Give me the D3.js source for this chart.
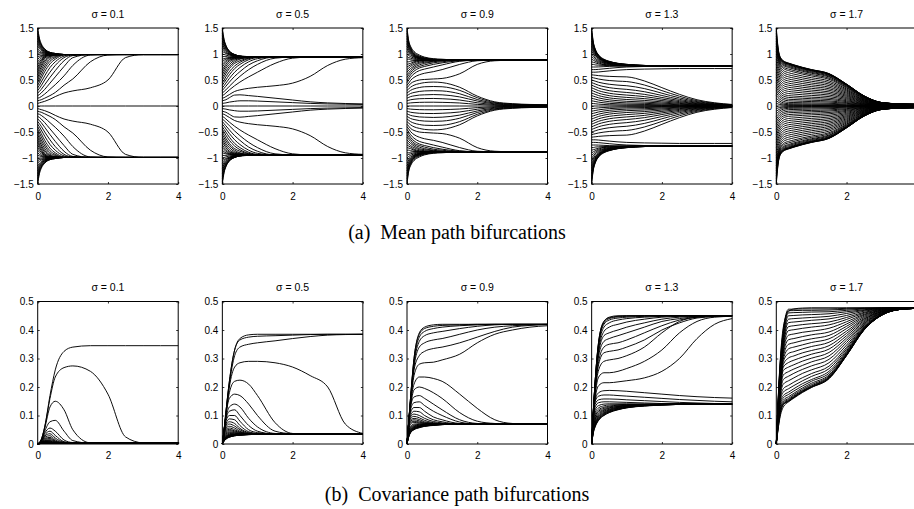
<!DOCTYPE html>
<html><head><meta charset="utf-8">
<script src="https://cdn.jsdelivr.net/npm/d3@7"></script>
<style>
html,body{margin:0;padding:0;background:#fff;}
svg{display:block;}
.tick text{font-family:"Liberation Sans",Arial,Helvetica,sans-serif;font-size:10px;fill:#000;}
.tick line{stroke:#000;stroke-width:0.8;}
.path{fill:none;stroke:#000;stroke-width:0.95;}
</style></head><body>
<svg id="fig" width="914" height="509"></svg>
<script>
// Shared time knots (x values) of every path
const T = [0,0.05,0.1,0.2,0.35,0.5,0.75,1,1.5,2,2.5,3,3.5,4];

const sigmaLabels = ["σ = 0.1","σ = 0.5","σ = 0.9","σ = 1.3","σ = 1.7"];
const xTicks = [0,2,4];
const xTickLabels = ["0","2","4"];
const meanTicks = [-1.5,-1,-0.5,0,0.5,1,1.5];
const meanTickLabels = ["−1.5","−1","−0.5","0","0.5","1","1.5"];
const covTicks = [0,0.1,0.2,0.3,0.4,0.5];
const covTickLabels = ["0","0.1","0.2","0.3","0.4","0.5"];

// Mean paths, one row per initial value 0, 0.05, ..., 1.5 (each path has a mirror image for the negative start)
const meanPaths01 = [
[0,0,0,0,0,0,0,0,0,0,0,0,0,0],
[.05,.06,.07,.09,.13,.18,.25,.29,.35,.5,.93,.99,.99,.99],
[.1,.11,.12,.15,.2,.26,.4,.52,.85,.98,.99,.99,.99,.99],
[.15,.16,.18,.23,.32,.41,.58,.78,.98,.99,.99,.99,.99,.99],
[.2,.22,.25,.32,.44,.56,.76,.93,.99,.99,.99,.99,.99,.99],
[.25,.28,.32,.41,.55,.68,.87,.97,.99,.99,.99,.99,.99,.99],
[.3,.34,.39,.5,.65,.78,.93,.98,.99,.99,.99,.99,.99,.99],
[.35,.4,.46,.58,.74,.85,.96,.99,.99,.99,.99,.99,.99,.99],
[.4,.46,.53,.66,.81,.9,.98,.99,.99,.99,.99,.99,.99,.99],
[.45,.52,.59,.72,.86,.93,.99,.99,.99,.99,.99,.99,.99,.99],
[.5,.58,.65,.77,.9,.95,.99,.99,.99,.99,.99,.99,.99,.99],
[.55,.63,.7,.82,.93,.97,.99,.99,.99,.99,.99,.99,.99,.99],
[.6,.68,.75,.86,.95,.98,.99,.99,.99,.99,.99,.99,.99,.99],
[.65,.73,.79,.89,.96,.98,.99,.99,.99,.99,.99,.99,.99,.99],
[.7,.77,.83,.92,.97,.99,.99,.99,.99,.99,.99,.99,.99,.99],
[.75,.81,.86,.94,.98,.99,.99,.99,.99,.99,.99,.99,.99,.99],
[.8,.85,.89,.95,.98,.99,.99,.99,.99,.99,.99,.99,.99,.99],
[.85,.89,.92,.96,.99,.99,.99,.99,.99,.99,.99,.99,.99,.99],
[.9,.93,.95,.97,.99,.99,.99,.99,.99,.99,.99,.99,.99,.99],
[.95,.96,.97,.98,.99,.99,.99,.99,.99,.99,.99,.99,.99,.99],
[1,1,1,.99,.99,.99,.99,.99,.99,.99,.99,.99,.99,.99],
[1.05,1.03,1.02,1.01,1,.99,.99,.99,.99,.99,.99,.99,.99,.99],
[1.1,1.06,1.04,1.02,1,.99,.99,.99,.99,.99,.99,.99,.99,.99],
[1.15,1.1,1.07,1.03,1.01,1,.99,.99,.99,.99,.99,.99,.99,.99],
[1.2,1.13,1.09,1.04,1.01,1,.99,.99,.99,.99,.99,.99,.99,.99],
[1.25,1.16,1.11,1.05,1.02,1,.99,.99,.99,.99,.99,.99,.99,.99],
[1.3,1.19,1.13,1.06,1.02,1,.99,.99,.99,.99,.99,.99,.99,.99],
[1.35,1.22,1.15,1.07,1.02,1,.99,.99,.99,.99,.99,.99,.99,.99],
[1.4,1.25,1.17,1.08,1.03,1.01,.99,.99,.99,.99,.99,.99,.99,.99],
[1.45,1.27,1.18,1.09,1.03,1.01,.99,.99,.99,.99,.99,.99,.99,.99],
[1.5,1.3,1.2,1.1,1.03,1.01,.99,.99,.99,.99,.99,.99,.99,.99]
];
const meanPaths05 = [
[0,0,0,0,0,0,0,0,0,0,0,0,0,0],
[.05,.055,.06,.075,.09,.1,.1,.095,.08,.065,.05,.04,.035,.03],
[.1,.11,.12,.16,.21,.215,.2,.185,.15,.115,.08,.06,.048,.04],
[.15,.16,.18,.22,.28,.31,.34,.36,.39,.44,.57,.78,.9,.93],
[.2,.22,.25,.31,.39,.46,.56,.65,.82,.92,.94,.94,.94,.94],
[.25,.28,.31,.38,.48,.57,.7,.8,.92,.94,.94,.94,.94,.94],
[.3,.34,.38,.46,.57,.66,.79,.87,.94,.94,.94,.94,.94,.94],
[.35,.39,.44,.53,.65,.74,.85,.91,.94,.94,.94,.94,.94,.94],
[.4,.45,.5,.6,.72,.8,.89,.93,.94,.94,.94,.94,.94,.94],
[.45,.5,.56,.66,.77,.84,.91,.94,.94,.94,.94,.94,.94,.94],
[.5,.56,.62,.72,.82,.87,.92,.94,.94,.94,.94,.94,.94,.94],
[.55,.61,.67,.76,.85,.9,.93,.94,.94,.94,.94,.94,.94,.94],
[.6,.66,.72,.8,.88,.91,.93,.94,.94,.94,.94,.94,.94,.94],
[.65,.71,.76,.84,.9,.92,.94,.94,.94,.94,.94,.94,.94,.94],
[.7,.75,.8,.87,.91,.93,.94,.94,.94,.94,.94,.94,.94,.94],
[.75,.8,.84,.89,.92,.93,.94,.94,.94,.94,.94,.94,.94,.94],
[.8,.84,.87,.91,.93,.94,.94,.94,.94,.94,.94,.94,.94,.94],
[.85,.88,.9,.92,.93,.94,.94,.94,.94,.94,.94,.94,.94,.94],
[.9,.91,.92,.93,.94,.94,.94,.94,.94,.94,.94,.94,.94,.94],
[.95,.95,.95,.94,.94,.94,.94,.94,.94,.94,.94,.94,.94,.94],
[1,.99,.98,.96,.95,.94,.94,.94,.94,.94,.94,.94,.94,.94],
[1.05,1.03,1.01,.98,.96,.95,.94,.94,.94,.94,.94,.94,.94,.94],
[1.1,1.06,1.03,.99,.96,.95,.94,.94,.94,.94,.94,.94,.94,.94],
[1.15,1.09,1.05,1,.97,.95,.94,.94,.94,.94,.94,.94,.94,.94],
[1.2,1.12,1.07,1.01,.97,.95,.94,.94,.94,.94,.94,.94,.94,.94],
[1.25,1.15,1.09,1.02,.97,.95,.94,.94,.94,.94,.94,.94,.94,.94],
[1.3,1.18,1.11,1.03,.98,.96,.94,.94,.94,.94,.94,.94,.94,.94],
[1.35,1.21,1.13,1.04,.98,.96,.94,.94,.94,.94,.94,.94,.94,.94],
[1.4,1.24,1.15,1.05,.99,.96,.94,.94,.94,.94,.94,.94,.94,.94],
[1.45,1.26,1.16,1.05,.99,.96,.95,.94,.94,.94,.94,.94,.94,.94],
[1.5,1.28,1.17,1.06,.99,.96,.95,.94,.94,.94,.94,.94,.94,.94]
];
const meanPaths09 = [
[0,0,0,0,0,0,0,0,0,0,0,0,0,0],
[.05,.055,.06,.065,.07,.072,.073,.07,.058,.031,.013,.007,.005,.004],
[.1,.11,.12,.13,.14,.143,.145,.14,.115,.062,.027,.015,.01,.008],
[.15,.165,.18,.195,.21,.215,.22,.215,.175,.095,.04,.022,.015,.012],
[.2,.22,.24,.26,.28,.29,.295,.29,.235,.125,.053,.03,.02,.016],
[.25,.275,.3,.33,.355,.37,.375,.37,.3,.16,.067,.037,.025,.02],
[.3,.33,.36,.4,.43,.45,.46,.45,.36,.19,.08,.045,.03,.025],
[.35,.39,.43,.47,.5,.51,.52,.53,.62,.8,.87,.88,.88,.88],
[.4,.44,.49,.55,.6,.63,.66,.7,.8,.87,.88,.88,.88,.88],
[.45,.5,.55,.62,.68,.71,.75,.79,.86,.88,.88,.88,.88,.88],
[.5,.55,.6,.67,.73,.76,.8,.83,.87,.88,.88,.88,.88,.88],
[.55,.6,.64,.71,.76,.79,.83,.85,.88,.88,.88,.88,.88,.88],
[.6,.64,.68,.74,.79,.82,.85,.87,.88,.88,.88,.88,.88,.88],
[.65,.69,.72,.77,.82,.84,.86,.87,.88,.88,.88,.88,.88,.88],
[.7,.73,.76,.8,.84,.86,.87,.88,.88,.88,.88,.88,.88,.88],
[.75,.77,.79,.83,.86,.87,.88,.88,.88,.88,.88,.88,.88,.88],
[.8,.81,.82,.85,.87,.88,.88,.88,.88,.88,.88,.88,.88,.88],
[.85,.85,.86,.87,.88,.88,.88,.88,.88,.88,.88,.88,.88,.88],
[.9,.9,.89,.88,.88,.88,.88,.88,.88,.88,.88,.88,.88,.88],
[.95,.93,.92,.9,.89,.88,.88,.88,.88,.88,.88,.88,.88,.88],
[1,.97,.95,.92,.9,.89,.88,.88,.88,.88,.88,.88,.88,.88],
[1.05,1.01,.98,.94,.91,.89,.88,.88,.88,.88,.88,.88,.88,.88],
[1.1,1.04,1,.95,.91,.9,.88,.88,.88,.88,.88,.88,.88,.88],
[1.15,1.07,1.02,.96,.92,.9,.89,.88,.88,.88,.88,.88,.88,.88],
[1.2,1.1,1.04,.97,.92,.9,.89,.88,.88,.88,.88,.88,.88,.88],
[1.25,1.13,1.06,.98,.93,.9,.89,.88,.88,.88,.88,.88,.88,.88],
[1.3,1.15,1.08,.99,.93,.91,.89,.88,.88,.88,.88,.88,.88,.88],
[1.35,1.18,1.1,1,.94,.91,.89,.88,.88,.88,.88,.88,.88,.88],
[1.4,1.2,1.11,1.01,.95,.92,.9,.89,.88,.88,.88,.88,.88,.88],
[1.45,1.23,1.13,1.03,.96,.93,.9,.89,.88,.88,.88,.88,.88,.88],
[1.5,1.25,1.15,1.05,.98,.94,.91,.9,.88,.88,.88,.88,.88,.88]
];
const meanPaths13 = [
[0,0,0,0,0,0,0,0,0,0,0,0,0,0],
[.05,.047,.043,.036,.029,.024,.019,.015,.013,.01,.006,.003,.002,.001],
[.1,.094,.087,.074,.061,.051,.042,.035,.03,.022,.014,.008,.004,.002],
[.15,.141,.132,.114,.096,.083,.069,.06,.052,.038,.024,.013,.007,.003],
[.2,.189,.178,.156,.134,.118,.101,.09,.077,.057,.036,.019,.01,.005],
[.25,.238,.225,.2,.175,.156,.138,.125,.108,.079,.05,.027,.014,.007],
[.3,.287,.273,.246,.219,.199,.179,.165,.142,.104,.066,.035,.018,.009],
[.35,.336,.322,.294,.266,.245,.224,.21,.181,.132,.084,.045,.023,.011],
[.4,.386,.372,.344,.316,.295,.274,.26,.224,.164,.104,.056,.029,.014],
[.45,.437,.424,.398,.372,.353,.333,.32,.275,.202,.128,.069,.035,.017],
[.5,.489,.478,.456,.434,.418,.401,.39,.335,.246,.156,.084,.043,.021],
[.55,.542,.534,.518,.502,.49,.478,.47,.404,.296,.188,.101,.052,.025],
[.6,.596,.592,.584,.576,.57,.564,.56,.482,.353,.224,.12,.062,.03],
[.65,.65,.65,.655,.665,.675,.69,.7,.71,.715,.72,.72,.72,.72],
[.7,.7,.7,.705,.715,.725,.74,.75,.76,.765,.77,.77,.77,.77],
[.75,.75,.75,.752,.757,.762,.768,.77,.77,.77,.77,.77,.77,.77],
[.8,.8,.79,.785,.78,.775,.772,.77,.77,.77,.77,.77,.77,.77],
[.85,.84,.83,.81,.795,.785,.775,.772,.77,.77,.77,.77,.77,.77],
[.9,.88,.86,.83,.8,.79,.78,.775,.77,.77,.77,.77,.77,.77],
[.95,.92,.89,.85,.82,.8,.79,.78,.77,.77,.77,.77,.77,.77],
[1,.96,.92,.87,.83,.81,.79,.78,.77,.77,.77,.77,.77,.77],
[1.05,1,.95,.89,.84,.82,.8,.78,.77,.77,.77,.77,.77,.77],
[1.1,1.03,.98,.91,.85,.82,.8,.785,.77,.77,.77,.77,.77,.77],
[1.15,1.06,1,.92,.86,.83,.805,.79,.77,.77,.77,.77,.77,.77],
[1.2,1.09,1.02,.93,.87,.83,.81,.79,.775,.77,.77,.77,.77,.77],
[1.25,1.12,1.04,.94,.87,.84,.81,.79,.775,.77,.77,.77,.77,.77],
[1.3,1.15,1.06,.95,.88,.84,.81,.795,.775,.77,.77,.77,.77,.77],
[1.35,1.17,1.07,.96,.88,.85,.815,.795,.775,.77,.77,.77,.77,.77],
[1.4,1.19,1.08,.97,.89,.85,.815,.8,.78,.77,.77,.77,.77,.77],
[1.45,1.21,1.09,.97,.89,.855,.82,.8,.78,.77,.77,.77,.77,.77],
[1.5,1.22,1.1,.98,.9,.86,.82,.8,.78,.77,.77,.77,.77,.77]
];
const meanPaths17 = [
[0,0,0,0,0,0,0,0,0,0,0,0,0,0],
[.05,.039,.029,.018,.012,.012,.011,.01,.009,.006,.003,.001,.001,.0005],
[.1,.078,.059,.037,.026,.025,.023,.022,.02,.013,.006,.002,.0013,.001],
[.15,.119,.092,.061,.045,.043,.041,.038,.034,.023,.011,.004,.002,.002],
[.2,.161,.129,.09,.07,.067,.063,.06,.053,.036,.016,.006,.004,.003],
[.25,.205,.168,.123,.1,.096,.09,.085,.076,.051,.024,.008,.005,.004],
[.3,.249,.207,.156,.13,.125,.117,.111,.098,.066,.031,.01,.007,.005],
[.35,.295,.248,.193,.165,.158,.149,.14,.125,.084,.039,.013,.008,.007],
[.4,.34,.29,.23,.2,.192,.18,.17,.151,.102,.047,.016,.01,.008],
[.45,.387,.335,.272,.24,.23,.216,.204,.181,.122,.056,.019,.012,.01],
[.5,.434,.379,.313,.28,.269,.252,.238,.211,.143,.066,.022,.014,.011],
[.55,.481,.424,.355,.32,.307,.288,.272,.242,.163,.075,.026,.016,.013],
[.6,.528,.468,.396,.36,.346,.324,.306,.272,.184,.085,.029,.018,.014],
[.65,.575,.513,.438,.4,.384,.36,.34,.302,.204,.094,.032,.02,.016],
[.7,.622,.557,.479,.44,.422,.396,.374,.332,.224,.103,.035,.022,.018],
[.75,.669,.602,.521,.48,.461,.432,.408,.362,.245,.113,.038,.024,.019],
[.8,.716,.646,.562,.52,.499,.468,.442,.393,.265,.122,.042,.026,.021],
[.85,.763,.691,.604,.56,.538,.504,.476,.423,.286,.132,.045,.028,.022],
[.9,.81,.735,.645,.6,.576,.54,.51,.453,.306,.141,.048,.03,.024],
[.95,.851,.773,.683,.64,.614,.576,.544,.483,.326,.15,.051,.032,.026],
[1,.888,.808,.722,.68,.653,.612,.578,.513,.347,.16,.054,.034,.027],
[1.05,.914,.829,.751,.71,.682,.639,.604,.536,.362,.167,.057,.036,.028],
[1.1,.942,.852,.78,.74,.71,.666,.629,.559,.377,.174,.059,.037,.03],
[1.15,.967,.869,.799,.76,.73,.684,.646,.574,.388,.179,.061,.038,.03],
[1.2,.99,.889,.818,.78,.749,.702,.663,.589,.398,.183,.062,.039,.031],
[1.25,1.018,.904,.831,.795,.763,.716,.676,.6,.405,.187,.064,.04,.032],
[1.3,1.043,.919,.845,.805,.773,.725,.684,.608,.411,.189,.064,.04,.032],
[1.35,1.065,.93,.85,.812,.78,.731,.69,.613,.414,.191,.065,.041,.032],
[1.4,1.085,.939,.858,.817,.784,.735,.694,.617,.417,.192,.065,.041,.033],
[1.45,1.104,.947,.865,.821,.788,.739,.698,.62,.419,.193,.066,.041,.033],
[1.5,1.129,.96,.872,.825,.792,.743,.701,.623,.421,.194,.066,.041,.033]
];

// Covariance paths, same initial values as the mean rows
const covPaths01 = [
[0,.005,.015,.06,.17,.26,.325,.34,.345,.345,.345,.345,.345,.345],
[0,.005,.015,.06,.16,.235,.268,.274,.255,.175,.025,.004,.003,.003],
[0,.005,.015,.055,.13,.15,.12,.05,.004,.003,.003,.003,.003,.003],
[0,.005,.013,.045,.078,.083,.045,.012,.003,.003,.003,.003,.003,.003],
[0,.004,.012,.038,.056,.045,.014,.005,.003,.003,.003,.003,.003,.003],
[0,.004,.011,.032,.045,.03,.008,.004,.003,.003,.003,.003,.003,.003],
[0,.004,.01,.028,.036,.021,.006,.003,.003,.003,.003,.003,.003,.003],
[0,.004,.009,.024,.029,.015,.005,.003,.003,.003,.003,.003,.003,.003],
[0,.003,.008,.02,.023,.011,.004,.003,.003,.003,.003,.003,.003,.003],
[0,.003,.007,.017,.019,.009,.004,.003,.003,.003,.003,.003,.003,.003],
[0,.003,.006,.014,.015,.007,.003,.003,.003,.003,.003,.003,.003,.003],
[0,.003,.006,.012,.012,.006,.003,.003,.003,.003,.003,.003,.003,.003],
[0,.003,.005,.01,.01,.005,.003,.003,.003,.003,.003,.003,.003,.003],
[0,.003,.005,.009,.008,.004,.003,.003,.003,.003,.003,.003,.003,.003],
[0,.003,.005,.008,.007,.004,.003,.003,.003,.003,.003,.003,.003,.003],
[0,.003,.004,.007,.006,.004,.003,.003,.003,.003,.003,.003,.003,.003],
[0,.003,.004,.006,.005,.003,.003,.003,.003,.003,.003,.003,.003,.003],
[0,.003,.004,.005,.004,.003,.003,.003,.003,.003,.003,.003,.003,.003],
[0,.003,.004,.004,.003,.003,.003,.003,.003,.003,.003,.003,.003,.003],
[0,.002,.003,.003,.003,.003,.003,.003,.003,.003,.003,.003,.003,.003],
[0,.002,.003,.003,.003,.003,.003,.003,.003,.003,.003,.003,.003,.003],
[0,.002,.003,.003,.003,.003,.003,.003,.003,.003,.003,.003,.003,.003],
[0,.002,.003,.003,.003,.003,.003,.003,.003,.003,.003,.003,.003,.003],
[0,.002,.003,.003,.003,.003,.003,.003,.003,.003,.003,.003,.003,.003],
[0,.002,.003,.003,.003,.003,.003,.003,.003,.003,.003,.003,.003,.003],
[0,.002,.003,.003,.003,.003,.003,.003,.003,.003,.003,.003,.003,.003],
[0,.002,.003,.003,.003,.003,.003,.003,.003,.003,.003,.003,.003,.003],
[0,.002,.003,.003,.003,.003,.003,.003,.003,.003,.003,.003,.003,.003],
[0,.001,.002,.003,.003,.003,.003,.003,.003,.003,.003,.003,.003,.003],
[0,.001,.002,.003,.003,.003,.003,.003,.003,.003,.003,.003,.003,.003],
[0,.001,.002,.003,.003,.003,.003,.003,.003,.003,.003,.003,.003,.003]
];
const covPaths05 = [
[0,.05,.11,.22,.33,.37,.383,.385,.385,.385,.385,.385,.385,.385],
[0,.05,.11,.22,.33,.365,.375,.378,.38,.382,.384,.385,.385,.385],
[0,.05,.11,.21,.31,.34,.35,.355,.362,.37,.377,.382,.384,.385],
[0,.05,.1,.2,.27,.285,.29,.29,.285,.27,.24,.2,.07,.037],
[0,.05,.1,.18,.22,.224,.21,.17,.075,.037,.035,.035,.035,.035],
[0,.05,.1,.16,.175,.17,.14,.1,.045,.036,.035,.035,.035,.035],
[0,.05,.09,.13,.14,.13,.09,.06,.037,.035,.035,.035,.035,.035],
[0,.045,.085,.115,.12,.1,.065,.045,.035,.035,.035,.035,.035,.035],
[0,.045,.08,.1,.1,.08,.05,.04,.035,.035,.035,.035,.035,.035],
[0,.04,.07,.088,.085,.065,.043,.037,.035,.035,.035,.035,.035,.035],
[0,.04,.065,.078,.072,.055,.04,.036,.035,.035,.035,.035,.035,.035],
[0,.038,.06,.07,.063,.05,.038,.035,.035,.035,.035,.035,.035,.035],
[0,.036,.056,.062,.056,.045,.037,.035,.035,.035,.035,.035,.035,.035],
[0,.034,.052,.056,.05,.042,.036,.035,.035,.035,.035,.035,.035,.035],
[0,.032,.048,.051,.046,.04,.036,.035,.035,.035,.035,.035,.035,.035],
[0,.03,.044,.047,.043,.038,.035,.035,.035,.035,.035,.035,.035,.035],
[0,.028,.04,.043,.04,.037,.035,.035,.035,.035,.035,.035,.035,.035],
[0,.026,.036,.04,.038,.036,.035,.035,.035,.035,.035,.035,.035,.035],
[0,.024,.033,.037,.036,.035,.035,.035,.035,.035,.035,.035,.035,.035],
[0,.022,.03,.034,.035,.035,.035,.035,.035,.035,.035,.035,.035,.035],
[0,.02,.028,.032,.034,.035,.035,.035,.035,.035,.035,.035,.035,.035],
[0,.018,.026,.031,.033,.034,.035,.035,.035,.035,.035,.035,.035,.035],
[0,.017,.024,.03,.033,.034,.035,.035,.035,.035,.035,.035,.035,.035],
[0,.016,.023,.029,.032,.034,.035,.035,.035,.035,.035,.035,.035,.035],
[0,.015,.022,.028,.032,.033,.034,.035,.035,.035,.035,.035,.035,.035],
[0,.014,.021,.027,.031,.033,.034,.035,.035,.035,.035,.035,.035,.035],
[0,.013,.02,.026,.03,.032,.034,.035,.035,.035,.035,.035,.035,.035],
[0,.012,.019,.025,.03,.032,.034,.035,.035,.035,.035,.035,.035,.035],
[0,.011,.018,.025,.029,.031,.033,.034,.035,.035,.035,.035,.035,.035],
[0,.011,.017,.024,.029,.031,.033,.034,.035,.035,.035,.035,.035,.035],
[0,.01,.017,.024,.029,.031,.033,.034,.035,.035,.035,.035,.035,.035]
];
const covPaths09 = [
[0,.08,.16,.3,.39,.41,.418,.42,.42,.42,.42,.42,.42,.42],
[0,.08,.16,.3,.385,.405,.413,.416,.418,.42,.42,.42,.42,.42],
[0,.08,.16,.29,.375,.395,.405,.41,.415,.418,.42,.42,.42,.42],
[0,.08,.15,.28,.36,.38,.39,.395,.405,.413,.418,.42,.42,.42],
[0,.08,.15,.27,.34,.355,.365,.37,.385,.4,.41,.415,.418,.42],
[0,.08,.15,.26,.31,.325,.335,.34,.355,.375,.395,.41,.416,.419],
[0,.08,.14,.24,.28,.285,.287,.295,.315,.355,.385,.4,.41,.415],
[0,.08,.14,.21,.235,.235,.23,.22,.175,.125,.085,.072,.07,.07],
[0,.08,.13,.19,.2,.195,.18,.16,.11,.08,.072,.07,.07,.07],
[0,.08,.13,.165,.17,.16,.14,.12,.085,.072,.07,.07,.07,.07],
[0,.075,.12,.145,.148,.135,.115,.1,.077,.07,.07,.07,.07,.07],
[0,.075,.11,.128,.128,.115,.095,.085,.072,.07,.07,.07,.07,.07],
[0,.07,.1,.115,.113,.1,.085,.078,.07,.07,.07,.07,.07,.07],
[0,.07,.095,.105,.1,.09,.079,.074,.07,.07,.07,.07,.07,.07],
[0,.065,.09,.097,.092,.083,.075,.072,.07,.07,.07,.07,.07,.07],
[0,.06,.085,.09,.086,.078,.073,.071,.07,.07,.07,.07,.07,.07],
[0,.06,.08,.085,.081,.075,.072,.07,.07,.07,.07,.07,.07,.07],
[0,.055,.075,.08,.077,.073,.071,.07,.07,.07,.07,.07,.07,.07],
[0,.05,.07,.076,.074,.072,.07,.07,.07,.07,.07,.07,.07,.07],
[0,.045,.062,.07,.071,.07,.07,.07,.07,.07,.07,.07,.07,.07],
[0,.042,.058,.066,.069,.07,.07,.07,.07,.07,.07,.07,.07,.07],
[0,.04,.055,.063,.067,.069,.07,.07,.07,.07,.07,.07,.07,.07],
[0,.038,.052,.061,.066,.068,.07,.07,.07,.07,.07,.07,.07,.07],
[0,.036,.05,.059,.064,.067,.069,.07,.07,.07,.07,.07,.07,.07],
[0,.034,.048,.057,.063,.066,.068,.07,.07,.07,.07,.07,.07,.07],
[0,.032,.046,.056,.062,.065,.068,.069,.07,.07,.07,.07,.07,.07],
[0,.03,.044,.054,.061,.064,.067,.069,.07,.07,.07,.07,.07,.07],
[0,.028,.042,.053,.06,.064,.067,.069,.07,.07,.07,.07,.07,.07],
[0,.027,.041,.052,.059,.063,.066,.068,.07,.07,.07,.07,.07,.07],
[0,.026,.04,.051,.058,.062,.066,.068,.07,.07,.07,.07,.07,.07],
[0,.025,.039,.05,.057,.062,.065,.068,.07,.07,.07,.07,.07,.07]
];
const covPaths13 = [
[0,.12,.22,.36,.43,.445,.45,.45,.45,.45,.45,.45,.45,.45],
[0,.12,.22,.36,.43,.443,.448,.45,.45,.45,.45,.45,.45,.45],
[0,.12,.22,.355,.425,.44,.446,.448,.45,.45,.45,.45,.45,.45],
[0,.12,.22,.35,.42,.435,.442,.445,.448,.45,.45,.45,.45,.45],
[0,.12,.21,.34,.41,.425,.435,.44,.445,.448,.45,.45,.45,.45],
[0,.12,.21,.33,.395,.41,.42,.428,.438,.445,.448,.45,.45,.45],
[0,.11,.2,.32,.38,.39,.4,.41,.425,.438,.445,.448,.45,.45],
[0,.11,.2,.31,.36,.37,.38,.39,.41,.43,.44,.447,.45,.45],
[0,.11,.19,.29,.34,.35,.355,.365,.39,.415,.435,.445,.448,.45],
[0,.11,.19,.28,.32,.325,.33,.34,.365,.4,.425,.442,.447,.45],
[0,.1,.18,.26,.29,.295,.3,.31,.34,.39,.43,.445,.448,.45],
[0,.1,.17,.235,.25,.25,.255,.265,.29,.33,.39,.43,.445,.448],
[0,.1,.16,.205,.215,.215,.218,.222,.232,.255,.3,.37,.42,.44],
[0,.1,.155,.18,.187,.188,.187,.185,.18,.175,.17,.166,.163,.161],
[0,.1,.15,.168,.172,.172,.17,.168,.164,.16,.156,.153,.15,.148],
[0,.095,.14,.155,.158,.158,.157,.155,.152,.149,.146,.144,.142,.141],
[0,.09,.13,.145,.148,.148,.147,.146,.144,.142,.141,.14,.14,.14],
[0,.085,.12,.135,.14,.141,.141,.141,.14,.14,.14,.14,.14,.14],
[0,.08,.11,.127,.134,.137,.138,.139,.14,.14,.14,.14,.14,.14],
[0,.075,.103,.12,.129,.133,.136,.138,.139,.14,.14,.14,.14,.14],
[0,.07,.097,.115,.125,.13,.134,.136,.138,.139,.14,.14,.14,.14],
[0,.066,.091,.11,.121,.127,.132,.135,.138,.139,.14,.14,.14,.14],
[0,.062,.086,.106,.118,.125,.131,.134,.137,.139,.14,.14,.14,.14],
[0,.058,.081,.102,.115,.122,.129,.133,.137,.139,.14,.14,.14,.14],
[0,.055,.077,.098,.112,.12,.128,.132,.136,.138,.14,.14,.14,.14],
[0,.052,.073,.095,.109,.118,.126,.131,.136,.138,.139,.14,.14,.14],
[0,.049,.07,.092,.107,.116,.125,.13,.135,.138,.139,.14,.14,.14],
[0,.046,.067,.089,.105,.114,.123,.129,.135,.137,.139,.14,.14,.14],
[0,.044,.064,.087,.103,.113,.122,.128,.134,.137,.139,.14,.14,.14],
[0,.042,.062,.085,.101,.111,.121,.127,.134,.137,.139,.14,.14,.14],
[0,.04,.06,.083,.1,.11,.12,.127,.133,.137,.139,.14,.14,.14]
];
const covPaths17 = [
[0,.15,.27,.41,.465,.474,.477,.478,.478,.478,.478,.478,.478,.478],
[0,.147,.264,.401,.473,.473,.474,.474,.474,.476,.477,.478,.478,.478],
[0,.143,.258,.391,.468,.468,.469,.469,.47,.473,.476,.477,.478,.478],
[0,.14,.252,.382,.46,.461,.462,.463,.464,.469,.474,.477,.478,.478],
[0,.137,.246,.373,.45,.451,.453,.454,.457,.464,.471,.476,.477,.478],
[0,.133,.24,.363,.438,.44,.442,.444,.448,.458,.469,.475,.477,.478],
[0,.13,.234,.354,.426,.428,.431,.434,.439,.451,.466,.474,.477,.478],
[0,.127,.228,.345,.412,.415,.419,.422,.428,.444,.462,.473,.477,.478],
[0,.123,.222,.335,.398,.401,.406,.41,.418,.437,.459,.472,.477,.478],
[0,.12,.216,.326,.382,.386,.392,.396,.406,.429,.455,.47,.476,.478],
[0,.117,.21,.317,.366,.37,.377,.383,.393,.421,.452,.469,.476,.478],
[0,.113,.204,.307,.35,.355,.363,.369,.381,.413,.448,.468,.475,.477],
[0,.11,.198,.298,.334,.34,.348,.356,.369,.405,.444,.466,.474,.477],
[0,.107,.192,.289,.318,.324,.334,.342,.357,.396,.44,.465,.474,.477],
[0,.103,.186,.279,.302,.309,.32,.328,.345,.388,.437,.464,.473,.476],
[0,.1,.18,.27,.286,.294,.305,.315,.333,.38,.433,.463,.473,.476],
[0,.097,.174,.258,.27,.278,.291,.301,.321,.372,.429,.461,.472,.476],
[0,.093,.168,.242,.254,.263,.276,.288,.309,.364,.425,.46,.472,.476],
[0,.09,.162,.226,.238,.248,.262,.274,.297,.356,.422,.459,.472,.476],
[0,.087,.156,.21,.222,.232,.248,.26,.285,.347,.418,.458,.472,.476],
[0,.083,.15,.194,.206,.217,.233,.247,.273,.339,.414,.456,.472,.476],
[0,.08,.144,.182,.194,.205,.222,.237,.264,.333,.411,.455,.472,.476],
[0,.077,.138,.17,.182,.194,.212,.226,.255,.327,.408,.454,.472,.476],
[0,.073,.132,.162,.174,.186,.204,.22,.248,.323,.407,.454,.472,.476],
[0,.07,.126,.154,.166,.178,.197,.213,.242,.319,.405,.453,.472,.476],
[0,.067,.12,.148,.16,.173,.192,.208,.238,.316,.403,.453,.472,.476],
[0,.063,.114,.144,.156,.169,.188,.204,.235,.314,.402,.452,.472,.476],
[0,.06,.108,.141,.153,.166,.186,.202,.233,.312,.402,.452,.472,.476],
[0,.057,.102,.139,.151,.164,.184,.2,.231,.311,.401,.452,.472,.476],
[0,.053,.096,.138,.15,.163,.183,.199,.23,.311,.401,.452,.472,.476],
[0,.05,.09,.13,.148,.161,.181,.198,.229,.31,.4,.452,.472,.476]
];

const meanPanels = [meanPaths01, meanPaths05, meanPaths09, meanPaths13, meanPaths17];
const covPanels = [covPaths01, covPaths05, covPaths09, covPaths13, covPaths17];

const svg = d3.select("#fig");
const left0 = 37.7, step = 184.65, panelW = 140.5;

const figRows = [
  {top: 28, h: 156, domain: [-1.5, 1.5], ticks: meanTicks, labels: meanTickLabels,
   panels: meanPanels, mirror: true, xPad: 9,
   caption: "(a)  Mean path bifurcations", capY: 239},
  {top: 301.5, h: 142.5, domain: [0, 0.5], ticks: covTicks, labels: covTickLabels,
   panels: covPanels, mirror: false, xPad: 7.5,
   caption: "(b)  Covariance path bifurcations", capY: 501}
];

figRows.forEach(row => {
  row.panels.forEach((paths, i) => {
    const g = svg.append("g")
      .attr("transform", `translate(${left0 + step * i},${row.top})`);
    const x = d3.scaleLinear().domain([0, 4]).range([0, panelW]);
    const y = d3.scaleLinear().domain(row.domain).range([row.h, 0]);
    const line = d3.line()
      .x((d, j) => x(T[j]))
      .y(d => y(d))
      .curve(d3.curveMonotoneX);

    const lines = g.append("g");
    paths.forEach((p, k) => {
      lines.append("path").attr("class", "path").attr("d", line(p));
      if (row.mirror && k > 0) {
        lines.append("path").attr("class", "path").attr("d", line(p.map(v => -v)));
      }
    });

    // axes: ticks point inward, labels on left and bottom only
    const left = g.append("g")
      .call(d3.axisLeft(y).tickValues(row.ticks)
        .tickFormat((d, j) => row.labels[j])
        .tickSizeInner(-2).tickSizeOuter(0).tickPadding(4));
    const bottom = g.append("g").attr("transform", `translate(0,${row.h})`)
      .call(d3.axisBottom(x).tickValues(xTicks)
        .tickFormat((d, j) => xTickLabels[j])
        .tickSizeInner(-2).tickSizeOuter(0).tickPadding(row.xPad));
    const right = g.append("g").attr("transform", `translate(${panelW},0)`)
      .call(d3.axisRight(y).tickValues(row.ticks).tickFormat("")
        .tickSizeInner(-2).tickSizeOuter(0));
    const topAx = g.append("g")
      .call(d3.axisTop(x).tickValues(xTicks).tickFormat("")
        .tickSizeInner(-2).tickSizeOuter(0));
    [left, bottom, right, topAx].forEach(a => a.select(".domain").remove());

    g.append("rect")
      .attr("x", 0).attr("y", 0).attr("width", panelW).attr("height", row.h)
      .attr("fill", "none").attr("stroke", "#000").attr("stroke-width", 1);

    g.append("text")
      .attr("x", panelW / 2).attr("y", -10.5)
      .attr("text-anchor", "middle")
      .attr("font-family", "'Liberation Sans', Arial, Helvetica, sans-serif")
      .attr("font-size", 10.5)
      .text(sigmaLabels[i]);
  });

  svg.append("text")
    .attr("x", 457).attr("y", row.capY)
    .attr("text-anchor", "middle")
    .attr("font-family", "'Liberation Serif', 'Times New Roman', Times, serif")
    .attr("font-size", 20)
    .style("white-space", "pre")
    .text(row.caption);
});
</script>
</body></html>
